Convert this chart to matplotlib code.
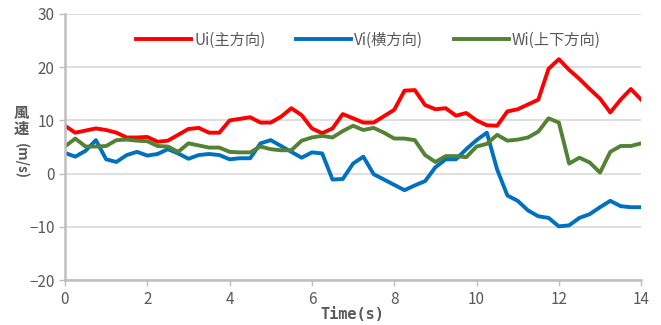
import matplotlib
matplotlib.use("Agg")
import matplotlib.pyplot as plt
import numpy as np

plt.rcParams['font.family'] = ['Noto Sans CJK JP', 'DejaVu Sans']

# time axis, one sample every 0.25 s
time_s = np.arange(57) * 0.25

ui = [9.0, 7.7, 8.1, 8.5, 8.2, 7.7, 6.8, 6.8, 6.9, 6.0, 6.2, 7.3, 8.4, 8.6, 7.7, 7.7,
      10.0, 10.3, 10.6, 9.6, 9.6, 10.7, 12.3, 11.0, 8.5, 7.6, 8.5, 11.2, 10.4, 9.6, 9.6,
      10.8, 12.0, 15.6, 15.7, 12.9, 12.1, 12.3, 10.9, 11.4, 10.0, 9.1, 9.0, 11.7, 12.1,
      13.0, 13.9, 19.7, 21.5, 19.5, 17.8, 15.9, 14.1, 11.5, 13.9, 15.9, 13.9]

vi = [3.9, 3.2, 4.3, 6.3, 2.7, 2.2, 3.5, 4.1, 3.4, 3.7, 4.6, 3.8, 2.8, 3.5, 3.7, 3.5,
      2.7, 2.9, 2.9, 5.7, 6.3, 5.2, 4.1, 3.0, 4.0, 3.8, -1.1, -1.0, 1.9, 3.2, -0.1,
      -1.1, -2.1, -3.1, -2.2, -1.4, 1.2, 2.7, 2.7, 4.6, 6.3, 7.7, 0.8, -4.1, -5.1,
      -6.9, -8.0, -8.3, -9.9, -9.7, -8.3, -7.6, -6.3, -5.1, -6.1, -6.3, -6.3]

wi = [5.1, 6.6, 5.1, 5.1, 5.2, 6.3, 6.4, 6.2, 6.1, 5.2, 5.1, 4.1, 5.7, 5.3, 4.9, 4.9,
      4.1, 4.0, 4.0, 5.1, 4.6, 4.4, 4.4, 6.2, 6.8, 7.1, 6.8, 8.0, 9.0, 8.2, 8.6,
      7.7, 6.6, 6.6, 6.3, 3.5, 2.2, 3.3, 3.3, 3.1, 5.1, 5.6, 7.3, 6.2, 6.4,
      6.8, 7.9, 10.4, 9.6, 1.9, 3.0, 2.1, 0.2, 4.1, 5.2, 5.2, 5.7]

labels = ['Ui(主方向)', 'Vi(横方向)', 'Wi(上下方向)']
colors = ['#FF0000', '#0070C0', '#548235']

fig = plt.figure(figsize=(6.61, 3.25), dpi=100)
ax = fig.add_axes([0.0983, 0.138, 0.8717, 0.819])

for series, lab, col in zip([ui, vi, wi], labels, colors):
    ax.plot(time_s, series, color=col, lw=2.8, label=lab, solid_joinstyle='round')

ax.set_xlim(0, 14)
ax.set_ylim(-20, 30)
ax.set_xticks(np.arange(0, 15, 2))
ax.set_yticks(np.arange(-20, 31, 10))
ax.set_yticklabels(['−20', '−10', '0', '10', '20', '30'])
ax.grid(axis='y', color='#D9D9D9', lw=1.2)
ax.set_axisbelow(True)

for s in ['top', 'right']:
    ax.spines[s].set_visible(False)
for s in ['left', 'bottom']:
    ax.spines[s].set_color('#BFBFBF')
    ax.spines[s].set_linewidth(1.8)

ax.tick_params(colors='#BFBFBF', labelcolor='#595959', labelsize=11, length=4, width=1)

ax.legend(loc='upper center', bbox_to_anchor=(0.527, 0.985), ncol=3, frameon=False,
          fontsize=11, labelcolor='#595959', handlelength=3.6, columnspacing=2.0,
          handletextpad=0.2)

fig.text(0.5327, 0.032, 'Time(s)', ha='center', va='center', fontsize=11,
         fontweight='bold', color='#595959', family='DejaVu Sans Mono')
fig.text(0.032, 0.628, '風\n速', ha='center', va='center', fontsize=11,
         fontweight='bold', color='#595959', linespacing=1.0)
fig.text(0.032, 0.505, '(m/s)', ha='center', va='center', fontsize=10,
         fontweight='bold', color='#595959', rotation=270)

fig.savefig('out.png', dpi=100)
